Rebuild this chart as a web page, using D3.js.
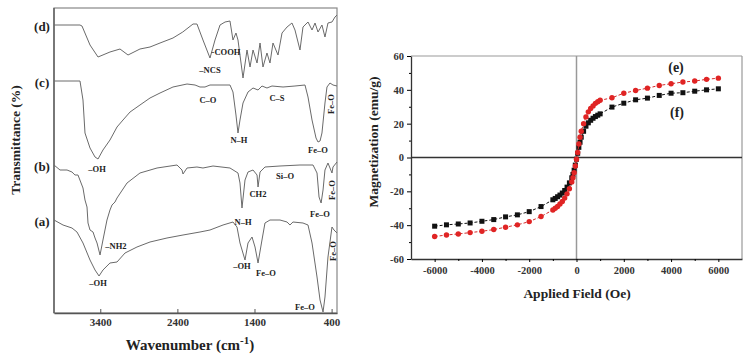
<!DOCTYPE html>
<html><head><meta charset="utf-8">
<script src="https://cdn.jsdelivr.net/npm/d3@7"></script>
<style>
body{margin:0;background:#fff;}
svg{display:block;}
text{font-family:"Liberation Serif","Times New Roman",serif;font-weight:bold;}
</style></head>
<body>
<svg id="c" width="750" height="360"></svg>
<script>
// ---------- FTIR data (wavenumber, transmittance a.u.) ----------
const wnTicks = [3400, 2400, 1400, 400];
const seriesNames = ["(d)", "(c)", "(b)", "(a)"];
const specD = [[4000,288],[3663,288],[3637,287],[3533,268],[3429,256],[3274,261],[3144,264],[3040,258],[2885,264],[2755,266],[2625,270],[2457,275],[2330,281],[2197,289],[2146,289],[2068,273],[1977,255],[1912,273],[1847,288],[1782,291],[1718,292],[1679,273],[1640,280],[1614,273],[1549,235],[1497,263],[1458,246],[1419,263],[1367,250],[1328,270],[1290,246],[1238,260],[1199,250],[1160,270],[1095,258],[1043,280],[978,286],[914,290],[875,283],[810,263],[771,286],[706,291],[654,283],[615,290],[576,281],[525,288],[486,276],[447,290],[395,291],[356,296],[330,298]];
const specC = [[4000,232],[3663,232],[3624,213],[3598,180],[3533,165],[3468,156],[3429,154],[3365,163],[3274,173],[3183,186],[3105,193],[3014,201],[2885,208],[2755,215],[2625,220],[2457,226],[2275,229],[2171,228],[2107,226],[2042,226],[1977,228],[1718,228],[1679,221],[1640,198],[1614,180],[1588,193],[1549,210],[1484,221],[1419,225],[1354,223],[1303,227],[1238,225],[1173,227],[1030,226],[875,227],[745,228],[706,216],[654,193],[602,175],[576,171],[550,172],[525,180],[486,210],[460,226],[421,230],[382,228],[330,227]];
const specB = [[4000,148],[3922,143],[3831,143],[3767,141],[3728,138],[3689,138],[3624,125],[3598,113],[3572,106],[3559,90],[3533,83],[3494,81],[3468,75],[3442,70],[3403,58],[3365,73],[3313,93],[3274,103],[3248,108],[3209,111],[3183,115],[3053,130],[2885,140],[2664,145],[2405,148],[2340,143],[2327,139],[2275,145],[2146,146],[2068,145],[1938,147],[1718,145],[1614,140],[1588,130],[1562,105],[1523,133],[1484,141],[1419,143],[1367,138],[1354,126],[1328,141],[1264,146],[1069,147],[810,148],[641,148],[589,140],[563,116],[536,110],[511,123],[486,143],[447,150],[395,140],[382,146],[330,151]];
const specA = [[4000,93],[3883,88],[3767,85],[3702,81],[3624,70],[3533,53],[3468,43],[3416,37],[3365,43],[3274,50],[3183,51],[3079,60],[2924,66],[2755,71],[2535,75],[2327,78],[2107,81],[1977,83],[1808,88],[1679,91],[1627,86],[1588,70],[1523,53],[1484,70],[1432,76],[1393,66],[1354,50],[1303,73],[1264,90],[1199,93],[1069,93],[978,91],[940,88],[901,91],[771,90],[706,88],[654,70],[589,36],[550,13],[511,1],[486,16],[447,56],[395,86],[369,83],[330,80]];
const spectra = [specD, specC, specB, specA];
// annotation labels anchored in data space [text, wavenumber, T, rotated]
const annotations = [
  ["–NCS",1977,243,false],["-COOH",1770,261,false],
  ["C–O",2003,213,false],["C–S",1108,215,false],["N–H",1601,173,false],["Fe–O",576,163,false],["Fe–O",408,209,true],["–OH",3442,144,false],
  ["Si–O",1004,137,false],["CH2",1355,119,false],["Fe–O",551,99,false],["Fe–O",395,123,true],["–NH2",3196,67,false],
  ["N–H",1549,91,false],["–OH",3429,30,false],["–OH",1562,47,false],["Fe–O",1251,40,false],["Fe–O",745,6,false],["Fe–O",382,62,true]
];

// ---------- Magnetization data ----------
const fieldE = [-6000,-5500,-5000,-4500,-4000,-3500,-3000,-2500,-2000,-1500,-1000,-900,-800,-700,-600,-500,-400,-300,-200,-150,-100,-50,0,50,100,150,200,300,400,500,600,700,800,900,1000,1500,2000,2500,3000,3500,4000,4500,5000,5500,6000];
const magE = [-46.7,-45.8,-45.2,-44.4,-43.6,-42.6,-41.2,-39.8,-37.9,-34.9,-31.0,-30.0,-29.0,-27.5,-26.0,-24.0,-21.5,-18.5,-14.5,-12,-9,-5,-1,3,8,12,15.5,20,24,27,29,30.5,32,33,33.8,35.3,38,39.6,41,42.6,43.6,44.6,45.2,46.2,46.9];
const fieldF = fieldE;
const magF = [-40.6,-39.8,-39.3,-38.7,-37.7,-36.7,-35.1,-33.9,-32.0,-29.0,-25.0,-24.2,-23.2,-22.2,-21.0,-19.5,-17.5,-15,-12,-10,-7.5,-4.5,-1,2.5,6,9,12,15.5,18.5,20.5,22,23.2,24.2,25,25.8,29.8,32.1,34.1,35.1,36.7,38,38.3,39.2,40,40.6];
const magTicks = [-60,-40,-20,0,20,40,60];
const magMinor = [-50,-30,-10,10,30,50];
const fieldTicks = [-6000,-4000,-2000,0,2000,4000,6000];
const fieldMinor = [-5000,-3000,-1000,1000,3000,5000];

const svg = d3.select("#c");
const plain = d => String(d);

// ===== Left panel =====
const x = d3.scaleLinear().domain([4000, 330]).range([54, 337]);
const y = d3.scaleLinear().domain([0, 305]).range([313, 8]);

svg.append("rect").attr("x",54).attr("y",8).attr("width",283).attr("height",305)
  .attr("fill","none").attr("stroke","#888").attr("stroke-width",1.2);
svg.append("line").attr("x1",54).attr("x2",54).attr("y1",8).attr("y2",313).attr("stroke","#555").attr("stroke-width",1.3);

const gx = svg.append("g").attr("transform","translate(0,313)")
  .call(d3.axisBottom(x).tickValues(wnTicks).tickFormat(plain).tickSizeInner(-4).tickSizeOuter(0).tickPadding(5));
gx.select(".domain").attr("stroke","#555").attr("stroke-width",1.3);
gx.selectAll(".tick line").attr("stroke","#555");
gx.selectAll("text").attr("font-size",11).attr("fill","#333").style("font-family","Liberation Serif").style("font-weight","bold");

const line = d3.line().x(d=>x(d[0])).y(d=>y(d[1]));
spectra.forEach((s,i)=>{
  svg.append("path").datum(s).attr("d",line).attr("fill","none")
    .attr("stroke","#6a6a6a").attr("stroke-width",1).attr("stroke-linejoin","round");
  svg.append("text").attr("x",42).attr("y",y(s[0][1])+1).attr("text-anchor","middle")
    .attr("dominant-baseline","central").attr("font-size",13).attr("fill","#222").text(seriesNames[i]);
});
annotations.forEach(a=>{
  const t = svg.append("text").attr("font-size",8.5).attr("fill","#222")
    .attr("text-anchor","middle").attr("dominant-baseline","central").text(a[0]);
  if(a[3]) t.attr("transform",`translate(${x(a[1])},${y(a[2])}) rotate(-90)`);
  else t.attr("x",x(a[1])).attr("y",y(a[2]));
});
svg.append("text").attr("transform","translate(15,140) rotate(-90)").attr("text-anchor","middle")
  .attr("dominant-baseline","central").attr("font-size",13.5).attr("fill","#222").text("Transmittance (%)");
const wl = svg.append("text").attr("x",190).attr("y",350).attr("text-anchor","middle")
  .attr("font-size",15).attr("fill","#222");
wl.append("tspan").text("Wavenumber (cm");
wl.append("tspan").attr("dy",-6).attr("font-size",11).text("-1");
wl.append("tspan").attr("dy",6).text(")");

// ===== Right panel =====
const hx = d3.scaleLinear().domain([-7000, 7000]).range([411, 742]);
const my = d3.scaleLinear().domain([-60, 60]).range([259, 56]);

svg.append("line").attr("x1",411).attr("x2",742).attr("y1",56).attr("y2",56).attr("stroke","#999").attr("stroke-width",1.2);
svg.append("line").attr("x1",742).attr("x2",742).attr("y1",56).attr("y2",259).attr("stroke","#999").attr("stroke-width",1.2);
svg.append("line").attr("x1",hx(0)).attr("x2",hx(0)).attr("y1",56).attr("y2",259).attr("stroke","#999").attr("stroke-width",1.5);
svg.append("line").attr("x1",411).attr("x2",742).attr("y1",my(0)).attr("y2",my(0)).attr("stroke","#333").attr("stroke-width",1.3);

const gy = svg.append("g").attr("transform","translate(411,0)")
  .call(d3.axisLeft(my).tickValues(magTicks).tickFormat(plain).tickSizeInner(4).tickSizeOuter(0).tickPadding(3));
gy.select(".domain").attr("stroke","#333").attr("stroke-width",1.3);
gy.selectAll("text").attr("font-size",10.5).attr("fill","#333").style("font-family","Liberation Serif").style("font-weight","bold");
svg.append("g").attr("transform","translate(411,0)")
  .call(d3.axisLeft(my).tickValues(magMinor).tickSize(2).tickFormat(""))
  .select(".domain").remove();

const gh = svg.append("g").attr("transform","translate(0,259)")
  .call(d3.axisBottom(hx).tickValues(fieldTicks).tickFormat(plain).tickSizeInner(3).tickSizeOuter(0).tickPadding(5));
gh.select(".domain").attr("stroke","#333").attr("stroke-width",1.3);
gh.selectAll("text").attr("font-size",10.5).attr("fill","#333").style("font-family","Liberation Serif").style("font-weight","bold");
svg.append("g").attr("transform","translate(0,259)")
  .call(d3.axisBottom(hx).tickValues(fieldMinor).tickSize(2).tickFormat(""))
  .select(".domain").remove();

const mline = d3.line().x(d=>hx(d[0])).y(d=>my(d[1]));
const dataF = fieldF.map((h,i)=>[h,magF[i]]);
const dataE = fieldE.map((h,i)=>[h,magE[i]]);
svg.append("path").datum(dataF).attr("d",mline).attr("fill","none").attr("stroke","#111").attr("stroke-width",1).attr("stroke-dasharray","3,2");
svg.selectAll(".sq").data(dataF).enter().append("rect")
  .attr("x",d=>hx(d[0])-2.5).attr("y",d=>my(d[1])-2.5).attr("width",5).attr("height",5).attr("fill","#111");
svg.append("path").datum(dataE).attr("d",mline).attr("fill","none").attr("stroke","#d42a2a").attr("stroke-width",1).attr("stroke-dasharray","3,2");
svg.selectAll(".ci").data(dataE).enter().append("circle")
  .attr("cx",d=>hx(d[0])).attr("cy",d=>my(d[1])).attr("r",2.7).attr("fill","#e02424");

svg.append("text").attr("x",676).attr("y",67).attr("text-anchor","middle").attr("dominant-baseline","central")
  .attr("font-size",14).attr("fill","#222").text("(e)");
svg.append("text").attr("x",677).attr("y",112).attr("text-anchor","middle").attr("dominant-baseline","central")
  .attr("font-size",14).attr("fill","#222").text("(f)");
svg.append("text").attr("transform","translate(373,142) rotate(-90)").attr("text-anchor","middle")
  .attr("dominant-baseline","central").attr("font-size",13.5).attr("fill","#222").text("Magnetization (emu/g)");
svg.append("text").attr("x",577).attr("y",293).attr("text-anchor","middle").attr("dominant-baseline","central")
  .attr("font-size",13.5).attr("fill","#222").text("Applied Field (Oe)");
</script>
</body></html>
